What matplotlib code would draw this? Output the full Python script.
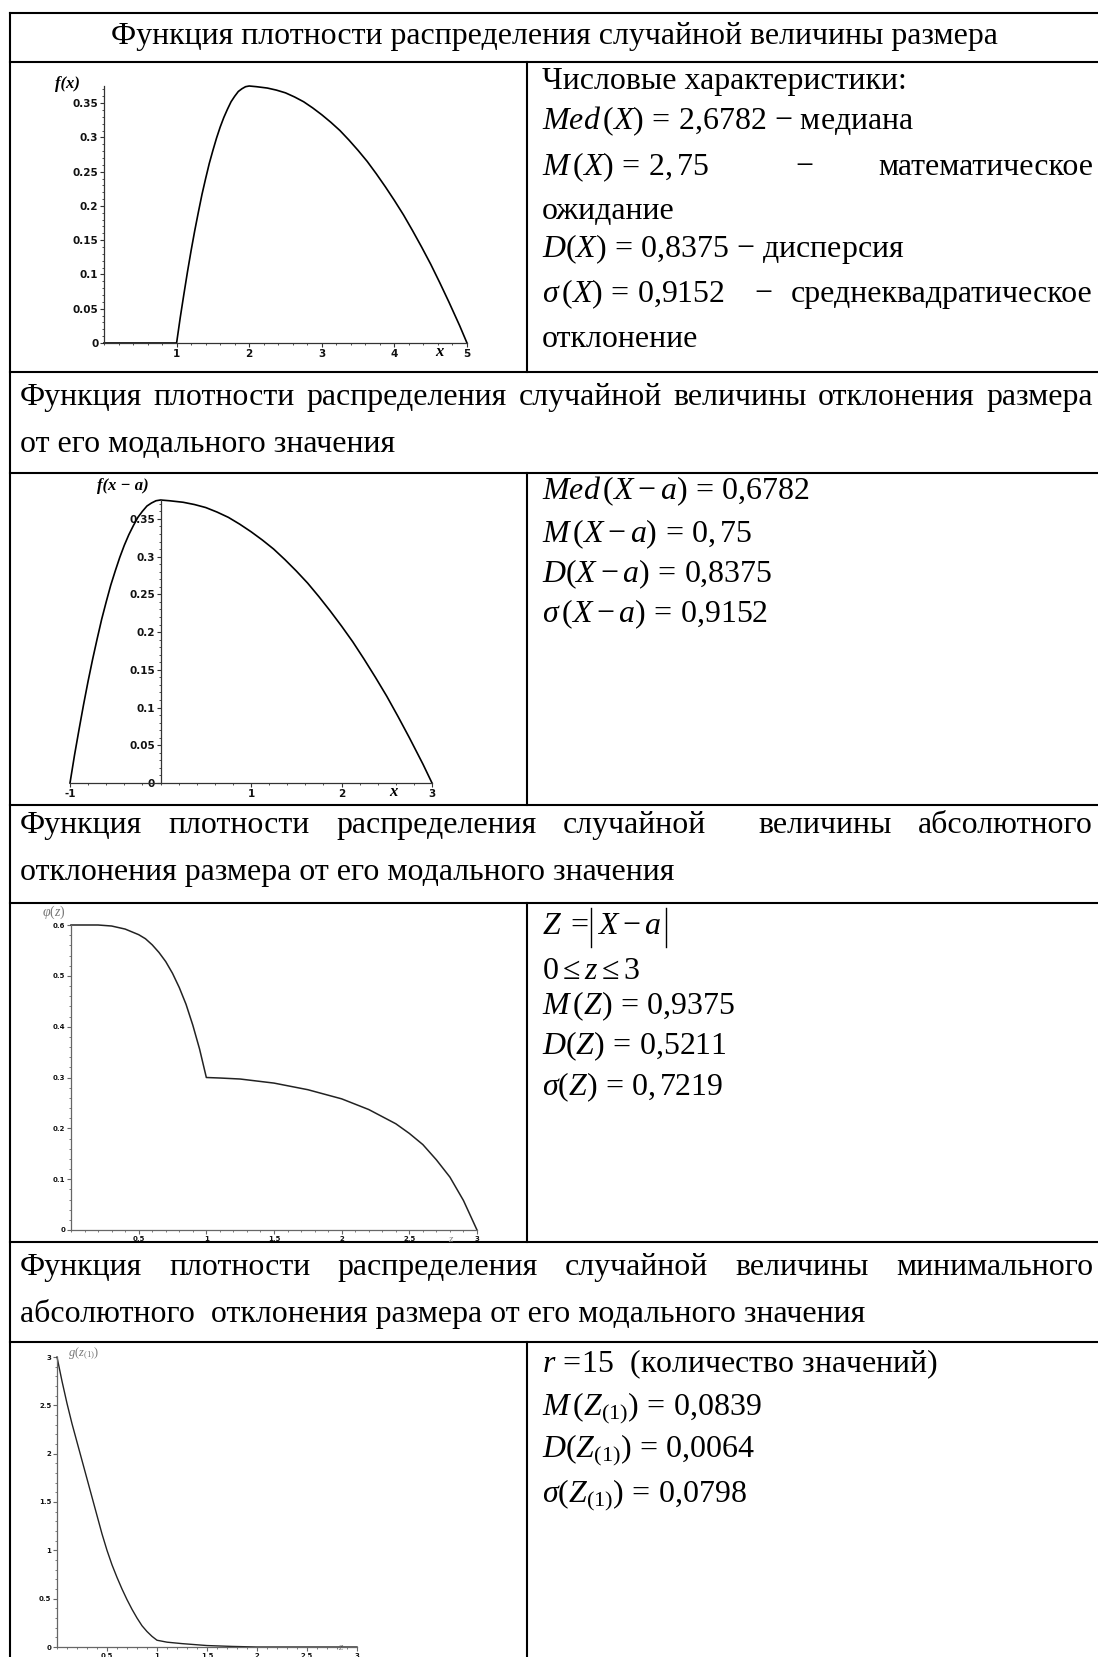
import matplotlib
matplotlib.use('Agg')
import matplotlib.pyplot as plt
from matplotlib.ticker import MultipleLocator

plt.rcParams['font.family'] = ['Liberation Serif', 'DejaVu Serif']
plt.rcParams['mathtext.fontset'] = 'custom'
plt.rcParams['mathtext.rm'] = 'Liberation Serif'
plt.rcParams['mathtext.it'] = 'Liberation Serif:italic'
plt.rcParams['mathtext.bf'] = 'Liberation Serif:bold'

# ---- data ----
x_size = [0, 1, 1.05, 1.1, 1.15, 1.2, 1.25, 1.3, 1.35, 1.4, 1.45, 1.5, 1.55, 1.6, 1.65, 1.7,
          1.75, 1.8, 1.85, 1.9, 1.95, 2.0, 2.1, 2.25, 2.375, 2.5, 2.625, 2.75, 2.875, 3.0,
          3.125, 3.25, 3.375, 3.5, 3.625, 3.75, 3.875, 4.0, 4.125, 4.25, 4.375, 4.5, 4.625,
          4.75, 4.9, 5.0]
f_size = [0, 0, 0.037, 0.071, 0.104, 0.135, 0.164, 0.191, 0.217, 0.240, 0.262, 0.281, 0.299,
          0.315, 0.329, 0.341, 0.352, 0.360, 0.367, 0.371, 0.374, 0.375, 0.374, 0.372, 0.369,
          0.365, 0.359, 0.352, 0.343, 0.333, 0.322, 0.310, 0.296, 0.281, 0.265, 0.247, 0.228,
          0.208, 0.187, 0.164, 0.140, 0.115, 0.088, 0.060, 0.025, 0]

x_dev = [-1, -0.95, -0.9, -0.85, -0.8, -0.75, -0.7, -0.65, -0.6, -0.55, -0.5, -0.45, -0.4,
         -0.35, -0.3, -0.25, -0.2, -0.15, -0.1, -0.05, 0, 0.1, 0.25, 0.375, 0.5, 0.625, 0.75,
         0.875, 1.0, 1.125, 1.25, 1.375, 1.5, 1.625, 1.75, 1.875, 2.0, 2.125, 2.25, 2.375,
         2.5, 2.625, 2.75, 2.9, 3.0]
f_dev = [0, 0.037, 0.071, 0.104, 0.135, 0.164, 0.191, 0.217, 0.240, 0.262, 0.281, 0.299,
         0.315, 0.329, 0.341, 0.352, 0.360, 0.367, 0.371, 0.374, 0.375, 0.374, 0.372, 0.369,
         0.365, 0.359, 0.352, 0.343, 0.333, 0.322, 0.310, 0.296, 0.281, 0.265, 0.247, 0.228,
         0.208, 0.187, 0.164, 0.140, 0.115, 0.088, 0.060, 0.025, 0]

z_abs = [0, 0.1, 0.2, 0.3, 0.4, 0.5, 0.55, 0.6, 0.65, 0.7, 0.75, 0.8, 0.85, 0.9, 0.95, 1.0,
         1.1, 1.25, 1.5, 1.75, 2.0, 2.2, 2.4, 2.5, 2.6, 2.7, 2.8, 2.9, 3.0]
phi_abs = [0.6, 0.6, 0.6, 0.598, 0.592, 0.581, 0.573, 0.561, 0.546, 0.528, 0.505, 0.477,
           0.444, 0.403, 0.356, 0.30, 0.299, 0.297, 0.289, 0.276, 0.258, 0.237, 0.209, 0.19,
           0.168, 0.138, 0.104, 0.058, 0]

z_min = [0, 0.05, 0.1, 0.15, 0.2, 0.25, 0.3, 0.35, 0.4, 0.45, 0.5, 0.55, 0.6, 0.65, 0.7,
         0.75, 0.8, 0.85, 0.9, 0.95, 1.0, 1.1, 1.25, 1.5, 1.75, 2.0, 3.0]
g_min = [3.0, 2.75, 2.52, 2.31, 2.12, 1.93, 1.74, 1.55, 1.36, 1.17, 1.0, 0.85, 0.72, 0.60,
         0.49, 0.39, 0.30, 0.22, 0.16, 0.11, 0.07, 0.05, 0.035, 0.015, 0.006, 0.0, 0.0]

ticks_size_x = [1, 2, 3, 4, 5]
ticks_size_y = [0, 0.05, 0.1, 0.15, 0.2, 0.25, 0.3, 0.35]
labels_size_y = ['0', '0.05', '0.1', '0.15', '0.2', '0.25', '0.3', '0.35']
ticks_dev_x = [-1, 1, 2, 3]
ticks_z_x = [0.5, 1, 1.5, 2, 2.5, 3]
labels_z_x = ['0.5', '1', '1.5', '2', '2.5', '3']
ticks_abs_y = [0, 0.1, 0.2, 0.3, 0.4, 0.5, 0.6]
labels_abs_y = ['0', '0.1', '0.2', '0.3', '0.4', '0.5', '0.6']
ticks_min_y = [0, 0.5, 1, 1.5, 2, 2.5, 3]
labels_min_y = ['0', '0.5', '1', '1.5', '2', '2.5', '3']

header1 = 'Функция плотности распределения случайной величины размера'
header2 = ['Функция плотности распределения случайной величины отклонения размера',
           'от его модального значения']
header3 = ['Функция плотности распределения случайной  величины абсолютного',
           'отклонения размера от его модального значения']
header4 = ['Функция плотности распределения случайной величины минимального',
           'абсолютного  отклонения размера от его модального значения']

W, H = 1098, 1657
fig = plt.figure(figsize=(W / 100, H / 100), dpi=100)
bg = fig.add_axes([0, 0, 1, 1])
bg.set_xlim(0, W)
bg.set_ylim(H, 0)
bg.axis('off')
renderer = fig.canvas.get_renderer()

# font size fitted to the width of the first header
probe = bg.text(0, 0, header1, fontsize=20)
fs = 20 * 891 / probe.get_window_extent(renderer).width
probe.remove()

# table grid
XL, XD, XR = 10, 527, 1098
hlines = [13, 62, 372, 473, 805, 903, 1242, 1342]
for y in hlines:
    bg.plot([XL, XR], [y, y], color='black', lw=1.5)
bg.plot([XL, XL], [13, H], color='black', lw=1.5)
for y0, y1 in [(62, 372), (473, 805), (903, 1242), (1342, H)]:
    bg.plot([XD, XD], [y0, y1], color='black', lw=1.5)


def put(x, yc, s, ha='left', **kw):
    # yc is the visual middle of the text line
    return bg.text(x, yc + 0.3 * fs, s, fontsize=fs, ha=ha, va='baseline', **kw)


def justify(yc, line, x0, x1):
    words = line.split(' ')
    ts = [put(0, yc, w) for w in words]
    widths = [t.get_window_extent(renderer).width if w else 0 for t, w in zip(ts, words)]
    gap = (x1 - x0 - sum(widths)) / (len(words) - 1)
    x = x0
    for t, w in zip(ts, widths):
        t.set_x(x)
        x += w + gap


put((XL + XR) / 2, 37, header1, ha='center')
for hdr, (ya, yb) in [(header2, (398, 445)), (header3, (826, 873)), (header4, (1268, 1315))]:
    justify(ya, hdr[0], 20, 1093)
    put(20, yb, hdr[1])

TX = 542
put(TX, 82, 'Числовые характеристики:')
put(TX, 122, r'$Med\,(X)\,=\,2{,}6782$ − медиана')
put(TX, 168, r'$M\,(X)\,=\,2{,}\,75$')
put(804, 168, '−', ha='center')
put(1093, 168, 'математическое', ha='right')
put(TX, 212, 'ожидание')
put(TX, 250, r'$D(X)\,=\,0{,}8375$ − дисперсия')
put(TX, 295, r'$\sigma\,(X)\,=\,0{,}9152$')
put(763, 295, '−', ha='center')
put(1093, 295, 'среднеквадратическое', ha='right')
put(TX, 340, 'отклонение')

put(TX, 492, r'$Med\,(X - a)\,=\,0{,}6782$')
put(TX, 535, r'$M\,(X - a)\,=\,0{,}\,75$')
put(TX, 575, r'$D(X - a)\,=\,0{,}8375$')
put(TX, 615, r'$\sigma\,(X - a)\,=\,0{,}9152$')

# Z = |X - a| with tall bars
tz = put(TX, 927, r'$Z\;=\;$')
xb = TX + tz.get_window_extent(renderer).width
bg.plot([xb + 2, xb + 2], [908, 947], color='black', lw=1.0)
tx = put(xb + 8, 927, r'$X - a$')
xe = xb + 8 + tx.get_window_extent(renderer).width
bg.plot([xe + 4, xe + 4], [908, 947], color='black', lw=1.0)

put(TX, 972, r'$0 \leq z \leq 3$')
put(TX, 1007, r'$M\,(Z)\,=\,0{,}9375$')
put(TX, 1047, r'$D(Z)\,=\,0{,}5211$')
put(TX, 1088, r'$\sigma(Z)\,=\,0{,}\,7219$')

put(TX, 1365, r'$r\,=\!15$  (количество значений)')
put(TX, 1408, r'$M\,(Z_{(1)})\,=\,0{,}0839$')
put(TX, 1450, r'$D(Z_{(1)})\,=\,0{,}0064$')
put(TX, 1495, r'$\sigma(Z_{(1)})\,=\,0{,}0798$')


def px_axes(l, t, r, b):
    return fig.add_axes([l / W, 1 - b / H, (r - l) / W, (b - t) / H])


def maple(ax, xlim, ylim, xt, xl, yt, yl, xmin, ymin, size, col):
    ax.set_xlim(xlim)
    ax.set_ylim(ylim)
    ax.patch.set_alpha(0)
    for s in ['top', 'right']:
        ax.spines[s].set_visible(False)
    ax.spines['left'].set_position(('data', 0))
    ax.spines['bottom'].set_position(('data', 0))
    for s in ['left', 'bottom']:
        ax.spines[s].set_color(col)
        ax.spines[s].set_linewidth(0.9)
    ax.set_xticks(xt, xl)
    ax.set_yticks(yt, yl)
    ax.xaxis.set_minor_locator(MultipleLocator(xmin))
    ax.yaxis.set_minor_locator(MultipleLocator(ymin))
    ax.tick_params(which='major', length=3, width=0.8, color=col, pad=1,
                   labelsize=size, direction='out', labelcolor='#111111')
    ax.tick_params(which='minor', length=1.5, width=0.6, color=col, direction='out')
    for lab in ax.get_xticklabels() + ax.get_yticklabels():
        lab.set_fontweight('bold')
        lab.set_family('DejaVu Sans')


lab_big = dict(fontweight='bold', style='italic', ha='center', va='center')

ax1 = px_axes(104, 86, 467, 343)
ax1.plot(x_size, f_size, color='black', lw=1.2, clip_on=False)
maple(ax1, (0, 5), (0, 0.375), ticks_size_x, [str(v) for v in ticks_size_x],
      ticks_size_y, labels_size_y, 0.2, 0.01, 7.5, '#333333')
bg.text(67, 84, 'f(x)', fontsize=12, **lab_big)
bg.text(439, 352, 'x', fontsize=12, **lab_big)

ax2 = px_axes(70, 500, 432, 783)
ax2.plot(x_dev, f_dev, color='black', lw=1.2, clip_on=False)
maple(ax2, (-1, 3), (0, 0.375), ticks_dev_x, [str(v) for v in ticks_dev_x],
      ticks_size_y, labels_size_y, 0.2, 0.01, 7.5, '#333333')
bg.text(123, 486, 'f(x − a)', fontsize=12, **lab_big)
bg.text(393, 792, 'x', fontsize=12, **lab_big)

ax3 = px_axes(71, 925, 477, 1230)
ax3.plot(z_abs, phi_abs, color='#222222', lw=1.1, clip_on=False)
maple(ax3, (0, 3), (0, 0.6), ticks_z_x, labels_z_x, ticks_abs_y, labels_abs_y,
      0.1, 0.02, 5, '#666666')
bg.text(54, 912, r'$\varphi(z)$', fontsize=10, color='#777777', ha='center', va='center')
bg.text(451, 1239, r'$z$', fontsize=8, color='#888888', ha='center', va='center')

ax4 = px_axes(57, 1357, 357, 1647)
ax4.plot(z_min, g_min, color='#222222', lw=1.0, clip_on=False)
maple(ax4, (0, 3), (0, 3), ticks_z_x, labels_z_x, ticks_min_y, labels_min_y,
      0.1, 0.1, 5, '#666666')
bg.text(84, 1354, r'$g(z_{(1)})$', fontsize=9, color='#777777', ha='center', va='center')
bg.text(341, 1648, r'$z$', fontsize=8, color='#888888', ha='center', va='center')

fig.savefig('out.png', dpi=100)
